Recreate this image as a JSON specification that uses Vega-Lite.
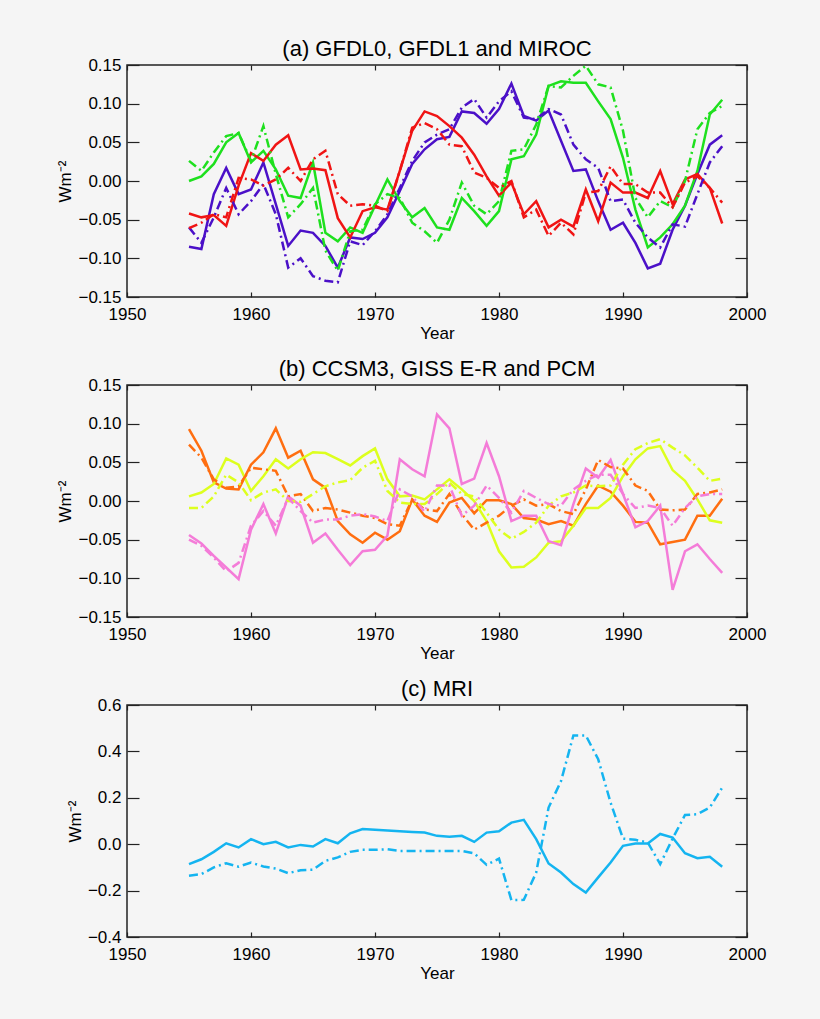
{
  "$schema": "https://vega.github.io/schema/vega-lite/v6.json",
  "padding": {"left": 56, "top": 37, "right": 71, "bottom": 38},
  "data": {"values": [
    {"year":1955,"a1":-0.085,"a1d":-0.06,"a2":0.0,"a2d":0.026,"a3":-0.042,"a3d":-0.061,"b1":0.093,"b1d":0.073,"b2":0.006,"b2d":-0.009,"b3":-0.044,"b3d":-0.05,"c1":-0.086,"c1d":-0.136},
    {"year":1956,"a1":-0.088,"a1d":-0.08,"a2":0.006,"a2d":0.013,"a3":-0.047,"a3d":-0.054,"b1":0.065,"b1d":0.056,"b2":0.011,"b2d":-0.009,"b3":-0.055,"b3d":-0.058,"c1":-0.065,"c1d":-0.129},
    {"year":1957,"a1":-0.017,"a1d":-0.047,"a2":0.022,"a2d":0.037,"a3":-0.044,"a3d":-0.043,"b1":0.024,"b1d":0.028,"b2":0.022,"b2d":0.006,"b3":-0.071,"b3d":-0.073,"c1":-0.033,"c1d":-0.1},
    {"year":1958,"a1":0.017,"a1d":-0.009,"a2":0.05,"a2d":0.058,"a3":-0.058,"a3d":-0.047,"b1":0.016,"b1d":0.017,"b2":0.055,"b2d":0.034,"b3":-0.086,"b3d":-0.091,"c1":0.004,"c1d":-0.082},
    {"year":1959,"a1":-0.017,"a1d":-0.043,"a2":0.062,"a2d":0.062,"a3":-0.006,"a3d":0.004,"b1":0.015,"b1d":0.019,"b2":0.047,"b2d":0.024,"b3":-0.101,"b3d":-0.08,"c1":-0.014,"c1d":-0.097},
    {"year":1960,"a1":-0.011,"a1d":-0.026,"a2":0.024,"a2d":0.026,"a3":0.036,"a3d":0.002,"b1":0.047,"b1d":0.043,"b2":0.013,"b2d":0.001,"b3":-0.037,"b3d":-0.032,"c1":0.022,"c1d":-0.079},
    {"year":1961,"a1":0.024,"a1d":-0.004,"a2":0.039,"a2d":0.071,"a3":0.026,"a3d":-0.006,"b1":0.063,"b1d":0.041,"b2":0.032,"b2d":0.011,"b3":-0.004,"b3d":-0.013,"c1":0.0,"c1d":-0.096},
    {"year":1962,"a1":-0.03,"a1d":-0.043,"a2":0.015,"a2d":0.009,"a3":0.047,"a3d":0.002,"b1":0.094,"b1d":0.039,"b2":0.054,"b2d":0.015,"b3":-0.042,"b3d":-0.032,"c1":0.01,"c1d":-0.105},
    {"year":1963,"a1":-0.084,"a1d":-0.112,"a2":-0.019,"a2d":-0.047,"a3":0.059,"a3d":0.017,"b1":0.056,"b1d":0.006,"b2":0.042,"b2d":0.0,"b3":0.006,"b3d":0.004,"c1":-0.014,"c1d":-0.125},
    {"year":1964,"a1":-0.064,"a1d":-0.1,"a2":-0.022,"a2d":-0.03,"a3":0.015,"a3d":0.0,"b1":0.065,"b1d":0.009,"b2":0.054,"b2d":-0.001,"b3":-0.006,"b3d":-0.013,"c1":-0.003,"c1d":-0.112},
    {"year":1965,"a1":-0.067,"a1d":-0.123,"a2":0.024,"a2d":-0.009,"a3":0.016,"a3d":0.028,"b1":0.028,"b1d":-0.013,"b2":0.063,"b2d":0.009,"b3":-0.054,"b3d":-0.028,"c1":-0.01,"c1d":-0.11},
    {"year":1966,"a1":-0.084,"a1d":-0.129,"a2":-0.067,"a2d":-0.09,"a3":0.014,"a3d":0.039,"b1":0.017,"b1d":-0.009,"b2":0.062,"b2d":0.019,"b3":-0.042,"b3d":-0.024,"c1":0.022,"c1d":-0.072},
    {"year":1967,"a1":-0.112,"a1d":-0.131,"a2":-0.078,"a2d":-0.116,"a3":-0.048,"a3d":-0.017,"b1":-0.026,"b1d":-0.011,"b2":0.054,"b2d":0.024,"b3":-0.063,"b3d":-0.024,"c1":0.004,"c1d":-0.057},
    {"year":1968,"a1":-0.073,"a1d":-0.078,"a2":-0.06,"a2d":-0.065,"a3":-0.073,"a3d":-0.032,"b1":-0.043,"b1d":-0.015,"b2":0.046,"b2d":0.027,"b3":-0.083,"b3d":-0.019,"c1":0.047,"c1d":-0.033},
    {"year":1969,"a1":-0.075,"a1d":-0.083,"a2":-0.067,"a2d":-0.063,"a3":-0.039,"a3d":-0.03,"b1":-0.054,"b1d":-0.019,"b2":0.058,"b2d":0.043,"b3":-0.065,"b3d":-0.017,"c1":0.065,"c1d":-0.024},
    {"year":1970,"a1":-0.067,"a1d":-0.065,"a2":-0.032,"a2d":-0.03,"a3":-0.034,"a3d":-0.032,"b1":-0.041,"b1d":-0.022,"b2":0.068,"b2d":0.052,"b3":-0.063,"b3d":-0.02,"c1":0.062,"c1d":-0.024},
    {"year":1971,"a1":-0.047,"a1d":-0.043,"a2":0.002,"a2d":-0.017,"a3":-0.037,"a3d":-0.039,"b1":-0.05,"b1d":-0.03,"b2":0.028,"b2d":0.013,"b3":-0.045,"b3d":-0.026,"c1":0.059,"c1d":-0.022},
    {"year":1972,"a1":-0.013,"a1d":-0.009,"a2":-0.026,"a2d":-0.022,"a3":0.013,"a3d":0.013,"b1":-0.039,"b1d":-0.032,"b2":0.006,"b2d":-0.002,"b3":0.054,"b3d":0.015,"c1":0.056,"c1d":-0.029},
    {"year":1973,"a1":0.022,"a1d":0.026,"a2":-0.047,"a2d":-0.054,"a3":0.065,"a3d":0.069,"b1":0.002,"b1d":0.002,"b2":0.007,"b2d":-0.004,"b3":0.041,"b3d":0.006,"c1":0.053,"c1d":-0.029},
    {"year":1974,"a1":0.041,"a1d":0.05,"a2":-0.035,"a2d":-0.065,"a3":0.09,"a3d":0.075,"b1":-0.019,"b1d":-0.011,"b2":0.002,"b2d":-0.004,"b3":0.032,"b3d":-0.014,"c1":0.05,"c1d":-0.029},
    {"year":1975,"a1":0.054,"a1d":0.06,"a2":-0.06,"a2d":-0.08,"a3":0.084,"a3d":0.067,"b1":-0.027,"b1d":-0.013,"b2":0.015,"b2d":0.009,"b3":0.112,"b3d":0.02,"c1":0.036,"c1d":-0.029},
    {"year":1976,"a1":0.057,"a1d":0.067,"a2":-0.063,"a2d":-0.05,"a3":0.071,"a3d":0.047,"b1":-0.002,"b1d":0.009,"b2":0.028,"b2d":0.024,"b3":0.094,"b3d":0.02,"c1":0.032,"c1d":-0.029},
    {"year":1977,"a1":0.09,"a1d":0.095,"a2":-0.022,"a2d":-0.002,"a3":0.056,"a3d":0.045,"b1":0.004,"b1d":-0.017,"b2":0.015,"b2d":0.009,"b3":0.022,"b3d":-0.019,"c1":0.036,"c1d":-0.029},
    {"year":1978,"a1":0.088,"a1d":0.106,"a2":-0.039,"a2d":-0.032,"a3":0.034,"a3d":0.011,"b1":-0.016,"b1d":-0.037,"b2":0.0,"b2d":0.006,"b3":0.029,"b3d":-0.006,"c1":0.01,"c1d":-0.039},
    {"year":1979,"a1":0.074,"a1d":0.082,"a2":-0.058,"a2d":-0.043,"a3":0.006,"a3d":0.004,"b1":0.001,"b1d":-0.028,"b2":-0.026,"b2d":-0.015,"b3":0.075,"b3d":0.02,"c1":0.05,"c1d":-0.089},
    {"year":1980,"a1":0.093,"a1d":0.103,"a2":-0.039,"a2d":-0.026,"a3":-0.019,"a3d":-0.009,"b1":0.001,"b1d":-0.019,"b2":-0.065,"b2d":-0.037,"b3":0.032,"b3d":0.004,"c1":0.056,"c1d":-0.062},
    {"year":1981,"a1":0.126,"a1d":0.116,"a2":0.028,"a2d":0.039,"a3":-0.002,"a3d":0.0,"b1":-0.004,"b1d":-0.006,"b2":-0.086,"b2d":-0.049,"b3":-0.026,"b3d":-0.015,"c1":0.093,"c1d":-0.241},
    {"year":1982,"a1":0.084,"a1d":0.082,"a2":0.032,"a2d":0.041,"a3":-0.043,"a3d":-0.047,"b1":-0.022,"b1d":0.002,"b2":-0.085,"b2d":-0.04,"b3":-0.019,"b3d":0.013,"c1":0.105,"c1d":-0.24},
    {"year":1983,"a1":0.078,"a1d":0.08,"a2":0.06,"a2d":0.073,"a3":-0.026,"a3d":-0.037,"b1":-0.024,"b1d":-0.006,"b2":-0.073,"b2d":-0.028,"b3":-0.019,"b3d":0.004,"c1":0.022,"c1d":-0.122},
    {"year":1984,"a1":0.091,"a1d":0.093,"a2":0.123,"a2d":0.123,"a3":-0.06,"a3d":-0.071,"b1":-0.03,"b1d":-0.004,"b2":-0.054,"b2d":-0.006,"b3":-0.052,"b3d":-0.004,"c1":-0.083,"c1d":0.158},
    {"year":1985,"a1":0.052,"a1d":0.086,"a2":0.129,"a2d":0.121,"a3":-0.05,"a3d":-0.054,"b1":-0.026,"b1d":-0.013,"b2":-0.052,"b2d":0.006,"b3":-0.057,"b3d":-0.006,"c1":-0.122,"c1d":0.272},
    {"year":1986,"a1":0.013,"a1d":0.047,"a2":0.127,"a2d":0.136,"a3":-0.059,"a3d":-0.069,"b1":-0.032,"b1d":-0.017,"b2":-0.032,"b2d":0.011,"b3":-0.004,"b3d":0.015,"c1":-0.172,"c1d":0.469},
    {"year":1987,"a1":0.015,"a1d":0.028,"a2":0.127,"a2d":0.149,"a3":-0.011,"a3d":-0.015,"b1":-0.004,"b1d":0.015,"b2":-0.009,"b2d":0.02,"b3":0.042,"b3d":0.026,"c1":-0.208,"c1d":0.469},
    {"year":1988,"a1":-0.026,"a1d":0.017,"a2":0.103,"a2d":0.125,"a3":-0.052,"a3d":-0.013,"b1":0.02,"b1d":0.053,"b2":-0.009,"b2d":0.019,"b3":0.03,"b3d":0.034,"c1":-0.143,"c1d":0.366},
    {"year":1989,"a1":-0.063,"a1d":-0.026,"a2":0.08,"a2d":0.121,"a3":-0.002,"a3d":0.019,"b1":0.012,"b1d":0.044,"b2":0.004,"b2d":0.02,"b3":0.053,"b3d":0.034,"c1":-0.079,"c1d":0.179},
    {"year":1990,"a1":-0.054,"a1d":-0.024,"a2":0.03,"a2d":0.065,"a3":-0.015,"a3d":-0.004,"b1":-0.006,"b1d":0.042,"b2":0.032,"b2d":0.047,"b3":0.009,"b3d":0.009,"c1":-0.007,"c1d":0.024},
    {"year":1991,"a1":-0.08,"a1d":-0.054,"a2":-0.037,"a2d":-0.022,"a3":-0.015,"a3d":-0.004,"b1":-0.027,"b1d":0.02,"b2":0.054,"b2d":0.067,"b3":-0.034,"b3d":-0.009,"c1":0.003,"c1d":0.019},
    {"year":1992,"a1":-0.113,"a1d":-0.073,"a2":-0.086,"a2d":-0.047,"a3":-0.022,"a3d":-0.015,"b1":-0.028,"b1d":0.013,"b2":0.068,"b2d":0.075,"b3":-0.026,"b3d":-0.006,"c1":0.003,"c1d":0.007},
    {"year":1993,"a1":-0.107,"a1d":-0.086,"a2":-0.073,"a2d":-0.026,"a3":0.013,"a3d":-0.015,"b1":-0.056,"b1d":-0.011,"b2":0.071,"b2d":0.08,"b3":-0.006,"b3d":-0.009,"c1":0.044,"c1d":-0.086},
    {"year":1994,"a1":-0.063,"a1d":-0.056,"a2":-0.056,"a2d":-0.034,"a3":-0.03,"a3d":-0.034,"b1":-0.053,"b1d":-0.012,"b2":0.04,"b2d":0.069,"b3":-0.115,"b3d":-0.032,"c1":0.029,"c1d":0.024},
    {"year":1995,"a1":-0.032,"a1d":-0.059,"a2":-0.032,"a2d":0.0,"a3":0.002,"a3d":-0.002,"b1":-0.05,"b1d":-0.011,"b2":0.026,"b2d":0.059,"b3":-0.065,"b3d":-0.009,"c1":-0.039,"c1d":0.126},
    {"year":1996,"a1":0.009,"a1d":-0.017,"a2":0.013,"a2d":0.067,"a3":0.009,"a3d":0.006,"b1":-0.019,"b1d":0.009,"b2":0.002,"b2d":0.043,"b3":-0.056,"b3d":0.006,"c1":-0.06,"c1d":0.129},
    {"year":1997,"a1":0.047,"a1d":0.024,"a2":0.086,"a2d":0.088,"a3":-0.009,"a3d":-0.009,"b1":-0.019,"b1d":0.011,"b2":-0.025,"b2d":0.026,"b3":-0.075,"b3d":0.009,"c1":-0.054,"c1d":0.158},
    {"year":1998,"a1":0.059,"a1d":0.045,"a2":0.105,"a2d":0.097,"a3":-0.055,"a3d":-0.028,"b1":0.003,"b1d":0.015,"b2":-0.028,"b2d":0.029,"b3":-0.093,"b3d":0.009,"c1":-0.097,"c1d":0.244}
  ]},
  "vconcat": [
    {
      "width": 620, "height": 232,
      "title": {"text": "(a) GFDL0, GFDL1 and MIROC"},
      "transform": [{"fold": ["a1","a2","a3","a1d","a2d","a3d"], "as": ["series","value"]}],
      "layer": [
        {
          "transform": [{"filter": {"field": "series", "oneOf": ["a1","a2","a3"]}}],
          "mark": {"type": "line", "strokeWidth": 2.5},
          "encoding": {
            "x": {"field": "year", "type": "quantitative", "scale": {"domain": [1950, 2000], "nice": false, "zero": false},
                  "axis": {"orient": "bottom", "title": "Year", "values": [1950,1960,1970,1980,1990,2000], "format": "d", "tickSize": -5, "labelPadding": 14, "titlePadding": 3, "labelFlush": false}},
            "y": {"field": "value", "type": "quantitative", "scale": {"domain": [-0.15, 0.15], "nice": false},
                  "axis": {"orient": "left", "title": "Wm⁻²", "values": [-0.15,-0.1,-0.05,0,0.05,0.1,0.15], "format": ".2f", "tickSize": -12, "labelPadding": 18, "titlePadding": 3, "labelFlush": false}},
            "color": {"field": "series", "type": "nominal", "legend": null,
                      "scale": {"domain": ["a1","a2","a3","a1d","a2d","a3d"], "range": ["#4B10C8","#1EE01E","#F01414","#4B10C8","#1EE01E","#F01414"]}}
          }
        },
        {
          "transform": [{"filter": {"field": "series", "oneOf": ["a1d","a2d","a3d"]}}],
          "mark": {"type": "line", "strokeWidth": 2.5, "strokeDash": [9, 4, 2, 4]},
          "encoding": {
            "x": {"field": "year", "type": "quantitative", "axis": {"orient": "top", "title": null, "labels": false, "values": [1950,1960,1970,1980,1990,2000], "tickSize": -5}},
            "y": {"field": "value", "type": "quantitative", "axis": {"orient": "right", "title": null, "labels": false, "values": [-0.15,-0.1,-0.05,0,0.05,0.1,0.15], "tickSize": -12}},
            "color": {"field": "series", "type": "nominal", "legend": null}
          }
        }
      ],
      "resolve": {"axis": {"x": "independent", "y": "independent"}}
    },
    {
      "width": 620, "height": 232,
      "title": {"text": "(b) CCSM3, GISS E-R and PCM"},
      "transform": [{"fold": ["b1","b2","b3","b1d","b2d","b3d"], "as": ["series","value"]}],
      "layer": [
        {
          "transform": [{"filter": {"field": "series", "oneOf": ["b1","b2","b3"]}}],
          "mark": {"type": "line", "strokeWidth": 2.5},
          "encoding": {
            "x": {"field": "year", "type": "quantitative", "scale": {"domain": [1950, 2000], "nice": false, "zero": false},
                  "axis": {"orient": "bottom", "title": "Year", "values": [1950,1960,1970,1980,1990,2000], "format": "d", "tickSize": -5, "labelPadding": 14, "titlePadding": 3, "labelFlush": false}},
            "y": {"field": "value", "type": "quantitative", "scale": {"domain": [-0.15, 0.15], "nice": false},
                  "axis": {"orient": "left", "title": "Wm⁻²", "values": [-0.15,-0.1,-0.05,0,0.05,0.1,0.15], "format": ".2f", "tickSize": -12, "labelPadding": 18, "titlePadding": 3, "labelFlush": false}},
            "color": {"field": "series", "type": "nominal", "legend": null,
                      "scale": {"domain": ["b1","b2","b3","b1d","b2d","b3d"], "range": ["#FF6E10","#DDFF1E","#F47CD8","#FF6E10","#DDFF1E","#F47CD8"]}}
          }
        },
        {
          "transform": [{"filter": {"field": "series", "oneOf": ["b1d","b2d","b3d"]}}],
          "mark": {"type": "line", "strokeWidth": 2.5, "strokeDash": [9, 4, 2, 4]},
          "encoding": {
            "x": {"field": "year", "type": "quantitative", "axis": {"orient": "top", "title": null, "labels": false, "values": [1950,1960,1970,1980,1990,2000], "tickSize": -5}},
            "y": {"field": "value", "type": "quantitative", "axis": {"orient": "right", "title": null, "labels": false, "values": [-0.15,-0.1,-0.05,0,0.05,0.1,0.15], "tickSize": -12}},
            "color": {"field": "series", "type": "nominal", "legend": null}
          }
        }
      ],
      "resolve": {"axis": {"x": "independent", "y": "independent"}}
    },
    {
      "width": 620, "height": 232,
      "title": {"text": "(c) MRI"},
      "transform": [{"fold": ["c1","c1d"], "as": ["series","value"]}],
      "layer": [
        {
          "transform": [{"filter": {"field": "series", "equal": "c1"}}],
          "mark": {"type": "line", "strokeWidth": 2.5},
          "encoding": {
            "x": {"field": "year", "type": "quantitative", "scale": {"domain": [1950, 2000], "nice": false, "zero": false},
                  "axis": {"orient": "bottom", "title": "Year", "values": [1950,1960,1970,1980,1990,2000], "format": "d", "tickSize": -5, "labelPadding": 14, "titlePadding": 3, "labelFlush": false}},
            "y": {"field": "value", "type": "quantitative", "scale": {"domain": [-0.4, 0.6], "nice": false},
                  "axis": {"orient": "left", "title": "Wm⁻²", "values": [-0.4,-0.2,0,0.2,0.4,0.6], "format": ".1f", "tickSize": -12, "labelPadding": 18, "titlePadding": 3, "labelFlush": false}},
            "color": {"field": "series", "type": "nominal", "legend": null,
                      "scale": {"domain": ["c1","c1d"], "range": ["#14B4F0","#14B4F0"]}}
          }
        },
        {
          "transform": [{"filter": {"field": "series", "equal": "c1d"}}],
          "mark": {"type": "line", "strokeWidth": 2.5, "strokeDash": [9, 4, 2, 4]},
          "encoding": {
            "x": {"field": "year", "type": "quantitative", "axis": {"orient": "top", "title": null, "labels": false, "values": [1950,1960,1970,1980,1990,2000], "tickSize": -5}},
            "y": {"field": "value", "type": "quantitative", "axis": {"orient": "right", "title": null, "labels": false, "values": [-0.4,-0.2,0,0.2,0.4,0.6], "tickSize": -12}},
            "color": {"field": "series", "type": "nominal", "legend": null}
          }
        }
      ],
      "resolve": {"axis": {"x": "independent", "y": "independent"}}
    }
  ],
  "resolve": {"scale": {"color": "independent", "x": "independent", "y": "independent"}},
  "config": {
    "background": "#f5f5f5",
    "font": "Liberation Sans",
    "view": {"stroke": "#222222", "strokeWidth": 1.5},
    "concat": {"spacing": 15},
    "axis": {"grid": false, "domain": false, "labelFont": "Liberation Sans", "labelFontSize": 17, "labelColor": "#000000",
             "titleFont": "Liberation Sans", "titleFontSize": 17, "titleFontWeight": "normal", "titleColor": "#000000",
             "tickColor": "#222222", "tickWidth": 1.2},
    "title": {"font": "Liberation Sans", "fontSize": 22, "fontWeight": "normal", "color": "#000000", "offset": -5}
  }
}
